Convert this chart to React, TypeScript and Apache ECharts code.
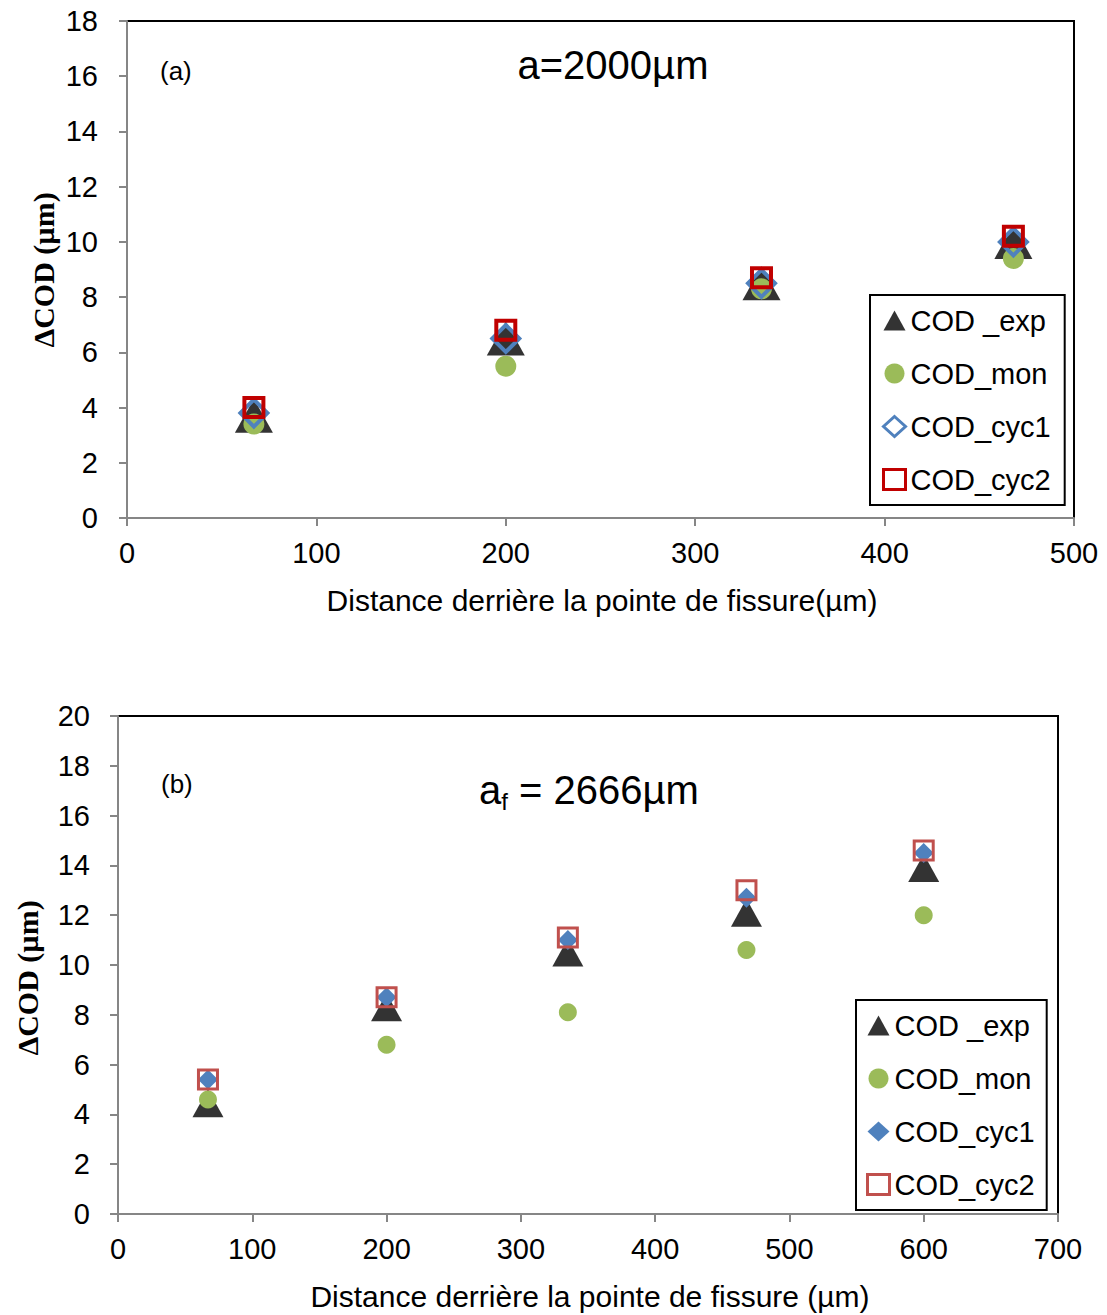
import React, { useEffect, useRef } from "react";
import * as echarts from "echarts";

// ---- data ----
const xTicksA = [0, 100, 200, 300, 400, 500];
const distA = [67, 200, 335, 468];
const expA = [3.7, 6.5, 8.5, 10.0];
const monA = [3.4, 5.5, 8.3, 9.4];
const cyc1A = [3.8, 6.5, 8.5, 10.0];
const cyc2A = [4.0, 6.8, 8.7, 10.2];

const xTicksB = [0, 100, 200, 300, 400, 500, 600, 700];
const distB = [67, 200, 335, 468, 600];
const expB = [4.45, 8.3, 10.5, 12.1, 13.9];
const monB = [4.6, 6.8, 8.1, 10.6, 12.0];
const cyc1B = [5.4, 8.7, 11.0, 12.7, 14.5];
const cyc2B = [5.4, 8.7, 11.1, 13.0, 14.6];

const seriesNames = ["COD _exp", "COD_mon", "COD_cyc1", "COD_cyc2"];
const yNameText = "ΔCOD (µm)";
const xNameA = "Distance derrière la pointe de fissure(µm)";
const xNameB = "Distance derrière la pointe de fissure (µm)";

const NARROW = "'Liberation Sans Narrow', 'Arial Narrow', 'Liberation Sans', sans-serif";
const SERIF = "'Liberation Serif', 'Times New Roman', serif";
const AXIS_GRAY = "#868686";

function pairs(xs: number[], ys: number[]) {
  return xs.map((x, i) => [x, ys[i]]);
}

function makeAxes(gridIndex: number, xMax: number, yMax: number, yMargin: number) {
  const x = {
    type: "value",
    gridIndex,
    min: 0,
    max: xMax,
    interval: 100,
    axisLine: { show: true, onZero: false, lineStyle: { color: AXIS_GRAY, width: 2 } },
    axisTick: { show: true, inside: false, length: 8, lineStyle: { color: AXIS_GRAY, width: 2 } },
    axisLabel: { color: "#000", fontFamily: NARROW, fontSize: 29, margin: 20 },
    splitLine: { show: false },
  };
  const y = {
    type: "value",
    gridIndex,
    min: 0,
    max: yMax,
    interval: 2,
    axisLine: { show: true, onZero: false, lineStyle: { color: AXIS_GRAY, width: 2 } },
    axisTick: { show: true, inside: false, length: 8, lineStyle: { color: AXIS_GRAY, width: 2 } },
    axisLabel: { color: "#000", fontFamily: NARROW, fontSize: 29, margin: yMargin },
    splitLine: { show: false },
  };
  return { x, y };
}

export default function App() {
  const ref = useRef<HTMLDivElement | null>(null);

  useEffect(() => {
    document.body.style.margin = "0";
    if (!ref.current) return;
    const chart = echarts.init(ref.current, undefined, { renderer: "svg" });

    const a = makeAxes(0, 500, 18, 29);
    const b = makeAxes(1, 700, 20, 28);

    const legendBase = {
      orient: "vertical",
      backgroundColor: "#fff",
      borderColor: "#000",
      borderWidth: 2,
      itemWidth: 22,
      itemHeight: 20,
      itemGap: 24,
      formatter: (n: string) => n.split("|")[1],
      textStyle: { fontFamily: NARROW, fontSize: 29, color: "#000" },
    };

    const legendData = (prefix: string, diamondBorder: number, squareBorder: number) =>
      seriesNames.map((n, i) => {
        if (i === 2) return { name: prefix + n, itemStyle: { borderWidth: diamondBorder } };
        if (i === 3) return { name: prefix + n, itemStyle: { borderWidth: squareBorder } };
        return { name: prefix + n };
      });

    const option: any = {
      animation: false,
      backgroundColor: "#fff",
      grid: [
        { left: 127, top: 21, width: 947, height: 497, show: true, borderColor: "#000", borderWidth: 2, backgroundColor: "transparent" },
        { left: 118, top: 716, width: 940, height: 498, show: true, borderColor: "#000", borderWidth: 2, backgroundColor: "transparent" },
      ],
      xAxis: [a.x, b.x],
      yAxis: [a.y, b.y],
      legend: [
        {
          ...legendBase,
          left: 870,
          top: 295,
          padding: [11, 14, 11, 12],
          data: legendData("a|", 3, 3),
        },
        {
          ...legendBase,
          left: 856,
          top: 1000,
          padding: [11, 12, 11, 10],
          data: legendData("b|", 0, 3),
        },
      ],
      graphic: [
        { type: "text", left: 160, top: 58, style: { text: "(a)", fontFamily: NARROW, fontSize: 26, fill: "#000" } },
        { type: "text", x: 613, y: 65, style: { text: "a=2000µm", fontFamily: NARROW, fontSize: 40, fill: "#000", textAlign: "center", textVerticalAlign: "middle" } },
        { type: "text", left: 161, top: 771, style: { text: "(b)", fontFamily: NARROW, fontSize: 26, fill: "#000" } },
        {
          type: "text",
          x: 589,
          y: 790,
          style: {
            text: "{m|a}{s|f}{m| = 2666µm}",
            textAlign: "center",
            textVerticalAlign: "middle",
            rich: {
              m: { fontFamily: NARROW, fontSize: 40, fill: "#000", color: "#000" },
              s: { fontFamily: NARROW, fontSize: 24, fill: "#000", color: "#000", padding: [22, 0, 0, 0] },
            },
          },
        },
        { type: "text", x: 43, y: 270, rotation: Math.PI / 2, style: { text: yNameText, fontFamily: SERIF, fontWeight: "bold", fontSize: 30, fill: "#000", textAlign: "center", textVerticalAlign: "middle" } },
        { type: "text", x: 27, y: 978, rotation: Math.PI / 2, style: { text: yNameText, fontFamily: SERIF, fontWeight: "bold", fontSize: 30, fill: "#000", textAlign: "center", textVerticalAlign: "middle" } },
        { type: "text", x: 602, y: 600, style: { text: xNameA, fontFamily: NARROW, fontSize: 30, fill: "#000", textAlign: "center", textVerticalAlign: "middle" } },
        { type: "text", x: 590, y: 1296, style: { text: xNameB, fontFamily: NARROW, fontSize: 30, fill: "#000", textAlign: "center", textVerticalAlign: "middle" } },
      ],
      series: [
        { name: "a|" + seriesNames[0], type: "scatter", xAxisIndex: 0, yAxisIndex: 0, symbol: "triangle", symbolSize: [38, 34], itemStyle: { color: "#000" }, data: pairs(distA, expA) },
        { name: "a|" + seriesNames[1], type: "scatter", xAxisIndex: 0, yAxisIndex: 0, symbol: "circle", symbolSize: 21, itemStyle: { color: "#9bbb59", opacity: 1 }, data: pairs(distA, monA) },
        { name: "a|" + seriesNames[2], type: "scatter", xAxisIndex: 0, yAxisIndex: 0, symbol: "diamond", symbolSize: 27, itemStyle: { color: "rgba(0,0,0,0)", borderColor: "#4f81bd", borderWidth: 4, opacity: 1 }, data: pairs(distA, cyc1A) },
        { name: "a|" + seriesNames[3], type: "scatter", xAxisIndex: 0, yAxisIndex: 0, symbol: "rect", symbolSize: 19, itemStyle: { color: "rgba(0,0,0,0)", borderColor: "#c00000", borderWidth: 4, opacity: 1 }, data: pairs(distA, cyc2A) },

        { name: "b|" + seriesNames[0], type: "scatter", xAxisIndex: 1, yAxisIndex: 1, symbol: "triangle", symbolSize: [31, 28], itemStyle: { color: "#000" }, data: pairs(distB, expB) },
        { name: "b|" + seriesNames[1], type: "scatter", xAxisIndex: 1, yAxisIndex: 1, symbol: "circle", symbolSize: 18, itemStyle: { color: "#9bbb59", opacity: 1 }, data: pairs(distB, monB) },
        { name: "b|" + seriesNames[2], type: "scatter", xAxisIndex: 1, yAxisIndex: 1, symbol: "diamond", symbolSize: 20, itemStyle: { color: "#4f81bd", opacity: 1 }, data: pairs(distB, cyc1B) },
        { name: "b|" + seriesNames[3], type: "scatter", xAxisIndex: 1, yAxisIndex: 1, symbol: "rect", symbolSize: 19, itemStyle: { color: "rgba(0,0,0,0)", borderColor: "#c0504d", borderWidth: 3, opacity: 1 }, data: pairs(distB, cyc2B) },
      ],
    };

    chart.setOption(option);
    return () => chart.dispose();
  }, []);

  return <div ref={ref} style={{ width: 1107, height: 1315 }} />;
}
